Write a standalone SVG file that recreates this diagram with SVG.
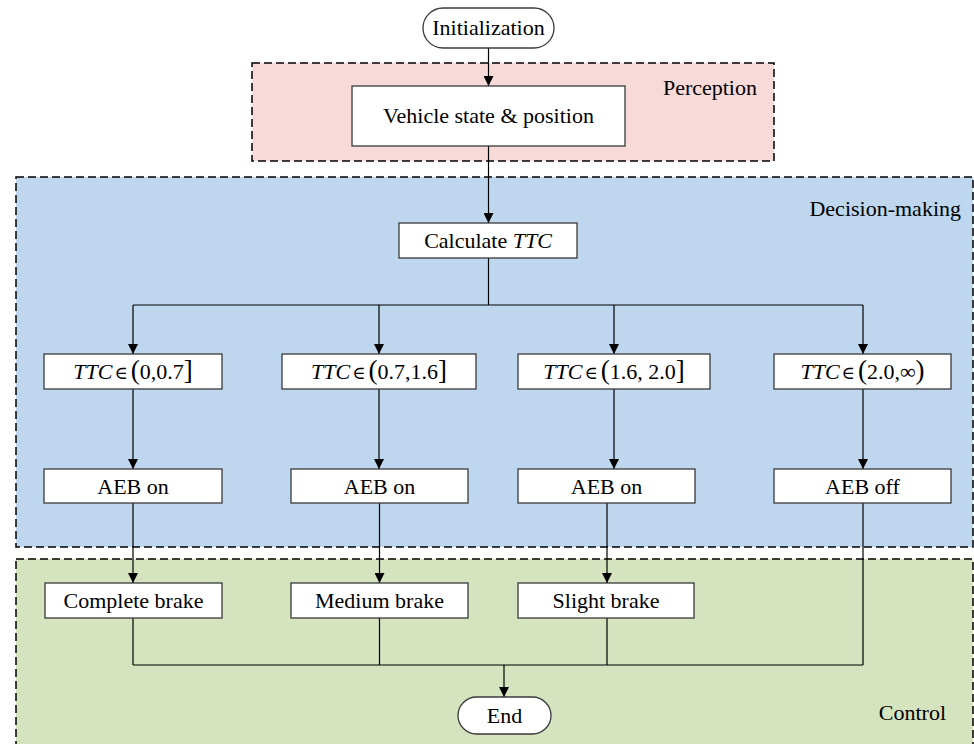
<svg xmlns="http://www.w3.org/2000/svg" width="974" height="744" viewBox="0 0 974 744" font-family="'Liberation Serif', 'Times New Roman', 'DejaVu Serif', serif" font-size="22">
<style>
text{font-family:'Liberation Serif','Times New Roman','DejaVu Serif',serif;font-size:22px;fill:#000}
.c{text-anchor:middle}
.e{text-anchor:end}
.node{fill:#fff;stroke:#3a3a3a;stroke-width:1.3}
.region{stroke:#000;stroke-width:1.5;stroke-dasharray:8 4}
.conn{fill:none;stroke:#000;stroke-width:1.2}
.i{font-style:italic}
.b{font-size:27px}
.el{font-size:18px}
</style>
<defs>
<marker id="ah" viewBox="0 0 10 10" refX="10" refY="5" markerWidth="10" markerHeight="10" markerUnits="userSpaceOnUse" orient="auto">
<path d="M0,0 L10,5 L0,10 z" fill="#000"/>
</marker>
</defs>

<g id="regions">
<rect id="perception" class="region" x="252" y="63" width="522" height="98" fill="#F8DAD9"/>
<rect id="decision" class="region" x="16" y="177" width="957" height="370" fill="#BED6EE"/>
<rect id="control" class="region" x="16" y="559" width="957" height="200" fill="#D5E3BE"/>
<text class="e" x="757" y="95">Perception</text>
<text class="e" x="961" y="216">Decision-making</text>
<text class="e" x="946" y="720">Control</text>
</g>

<g id="connectors">
<path class="conn" d="M488.5,48 V86" marker-end="url(#ah)"/>
<path class="conn" d="M488.5,146 V223" marker-end="url(#ah)"/>
<path class="conn" d="M488.5,258 V305"/>
<path class="conn" d="M133,305 H863"/>
<path class="conn" d="M133,305 V354" marker-end="url(#ah)"/>
<path class="conn" d="M379,305 V354" marker-end="url(#ah)"/>
<path class="conn" d="M614,305 V354" marker-end="url(#ah)"/>
<path class="conn" d="M863,305 V354" marker-end="url(#ah)"/>
<path class="conn" d="M133,389 V469" marker-end="url(#ah)"/>
<path class="conn" d="M379,389 V469" marker-end="url(#ah)"/>
<path class="conn" d="M614,389 V469" marker-end="url(#ah)"/>
<path class="conn" d="M863,389 V469" marker-end="url(#ah)"/>
<path class="conn" d="M133,503 V583" marker-end="url(#ah)"/>
<path class="conn" d="M379.5,503 V583" marker-end="url(#ah)"/>
<path class="conn" d="M607,503 V583" marker-end="url(#ah)"/>
<path class="conn" d="M863,503 V665"/>
<path class="conn" d="M133,618 V665"/>
<path class="conn" d="M379.5,618 V665"/>
<path class="conn" d="M607,618 V665"/>
<path class="conn" d="M133,665 H863"/>
<path class="conn" d="M504,665 V697" marker-end="url(#ah)"/>
</g>

<g id="n-init">
<rect class="node" x="423" y="8" width="131" height="40" rx="20" ry="20"/>
<text class="c" x="488.5" y="35">Initialization</text>
</g>
<g id="n-vehicle">
<rect class="node" x="352" y="86" width="273" height="60"/>
<text class="c" x="488.5" y="123">Vehicle state &amp; position</text>
</g>
<g id="n-calc">
<rect class="node" x="399" y="223" width="178" height="35"/>
<text class="c" x="488" y="248">Calculate <tspan class="i">TTC</tspan></text>
</g>

<g id="n-ttc1">
<rect class="node" x="44" y="354" width="178" height="35"/>
<text class="c" x="133" y="379"><tspan class="i">TTC</tspan><tspan class="el" dx="2">∈</tspan><tspan class="b" dx="3">(</tspan>0,0.7<tspan class="b">]</tspan></text>
</g>
<g id="n-ttc2">
<rect class="node" x="282" y="354" width="194" height="35"/>
<text class="c" x="379" y="379"><tspan class="i">TTC</tspan><tspan class="el" dx="2">∈</tspan><tspan class="b" dx="3">(</tspan>0.7,1.6<tspan class="b">]</tspan></text>
</g>
<g id="n-ttc3">
<rect class="node" x="518" y="354" width="192" height="35"/>
<text class="c" x="614" y="379"><tspan class="i">TTC</tspan><tspan class="el" dx="2">∈</tspan><tspan class="b" dx="3">(</tspan>1.6, 2.0<tspan class="b">]</tspan></text>
</g>
<g id="n-ttc4">
<rect class="node" x="774" y="354" width="177" height="35"/>
<text class="c" x="862.5" y="379"><tspan class="i">TTC</tspan><tspan class="el" dx="2">∈</tspan><tspan class="b" dx="3">(</tspan>2.0,∞<tspan class="b">)</tspan></text>
</g>

<g id="n-aeb1">
<rect class="node" x="44" y="469" width="178" height="34"/>
<text class="c" x="133" y="494">AEB on</text>
</g>
<g id="n-aeb2">
<rect class="node" x="291" y="469" width="177" height="34"/>
<text class="c" x="379.5" y="494">AEB on</text>
</g>
<g id="n-aeb3">
<rect class="node" x="518" y="469" width="177" height="34"/>
<text class="c" x="606.5" y="494">AEB on</text>
</g>
<g id="n-aeb4">
<rect class="node" x="774" y="469" width="177" height="34"/>
<text class="c" x="862.5" y="494">AEB off</text>
</g>

<g id="n-complete">
<rect class="node" x="45" y="583" width="177" height="35"/>
<text class="c" x="133.5" y="608">Complete brake</text>
</g>
<g id="n-medium">
<rect class="node" x="291" y="583" width="177" height="35"/>
<text class="c" x="379.5" y="608">Medium brake</text>
</g>
<g id="n-slight">
<rect class="node" x="518" y="583" width="176" height="35"/>
<text class="c" x="606" y="608">Slight brake</text>
</g>

<g id="n-end">
<rect class="node" x="458" y="697" width="93" height="37" rx="18.5" ry="18.5"/>
<text class="c" x="504.5" y="723">End</text>
</g>
</svg>
